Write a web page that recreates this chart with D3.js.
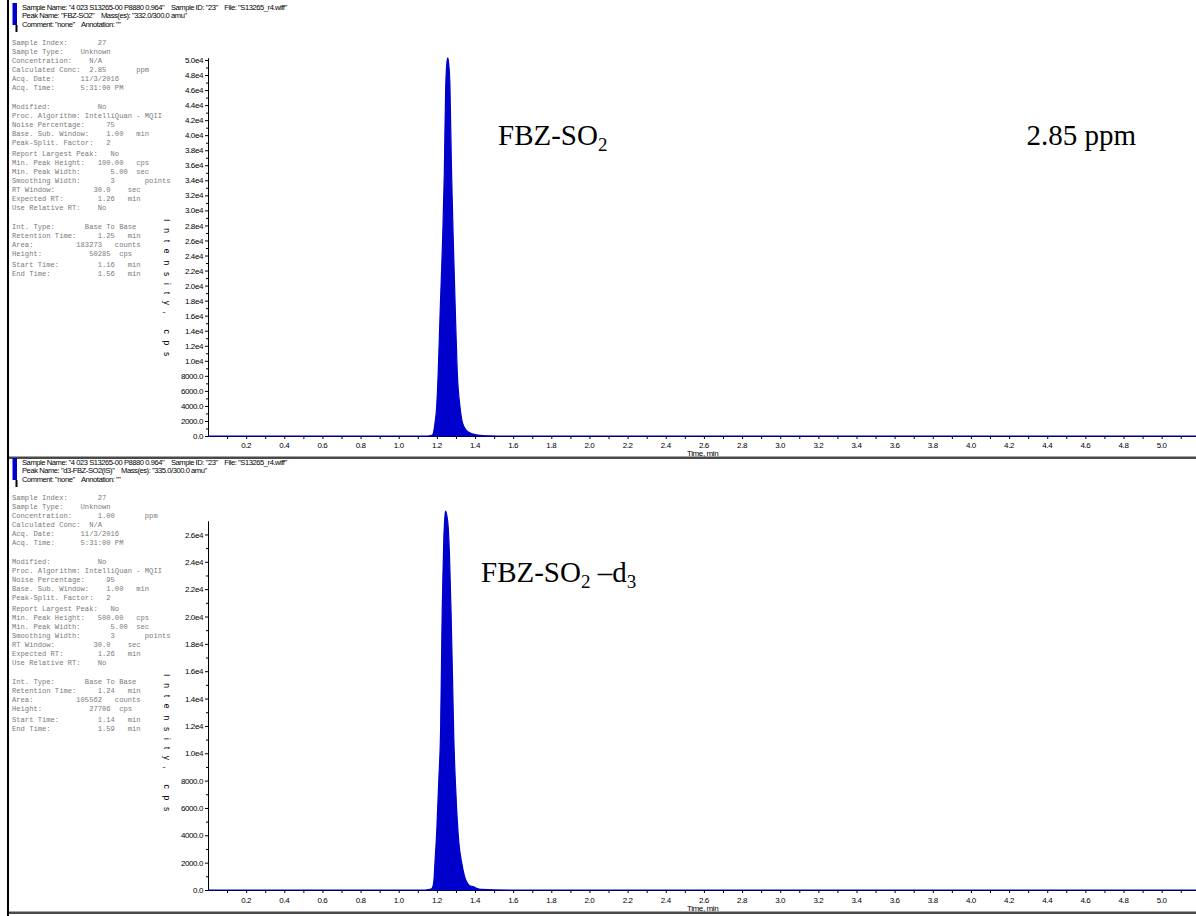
<!DOCTYPE html>
<html>
<head>
<meta charset="utf-8">
<script src="https://cdn.jsdelivr.net/npm/d3@7"></script>
<style>
  body { margin: 0; background: #fff; }
  text { white-space: pre; }
</style>
</head>
<body>
<script>
// FBZ-SO2 chromatogram (time in min, intensity in cps)
const fbzTime = [0, 1.15, 1.175, 1.185, 1.19, 1.199, 1.207, 1.218, 1.230, 1.239, 1.246, 1.252, 1.257, 1.262, 1.268, 1.277, 1.286, 1.296, 1.307, 1.321, 1.33, 1.345, 1.356, 1.375, 1.40, 1.425, 1.47, 1.56, 5.18]
const fbzCps = [0, 0, 100, 800, 1700, 3900, 8400, 17200, 26000, 35000, 46000, 49500, 50285, 49500, 47000, 35000, 26000, 17200, 8400, 3900, 2200, 1100, 700, 400, 200, 80, 30, 0, 0]

// d3-FBZ-SO2 (internal standard)
const d3Time = [0, 1.14, 1.17, 1.178, 1.185, 1.19, 1.20, 1.21, 1.22, 1.228, 1.236, 1.242, 1.246, 1.252, 1.259, 1.266, 1.274, 1.282, 1.289, 1.30, 1.315, 1.33, 1.345, 1.36, 1.373, 1.39, 1.408, 1.43, 1.59, 5.18]
const d3Cps = [0, 0, 60, 200, 800, 2000, 4500, 8000, 12000, 20500, 25500, 27300, 27706, 27400, 26600, 24500, 20500, 15500, 11000, 7000, 3500, 2000, 1000, 500, 300, 250, 120, 40, 0, 0]

const xTickLabels = [0.2, 0.4, 0.6, 0.8, 1.0, 1.2, 1.4, 1.6, 1.8, 2.0, 2.2, 2.4, 2.6, 2.8, 3.0, 3.2, 3.4, 3.6, 3.8, 4.0, 4.2, 4.4, 4.6, 4.8, 5.0]
const fbzYTicks = [0, 2000, 4000, 6000, 8000, 10000, 12000, 14000, 16000, 18000, 20000, 22000, 24000, 26000, 28000, 30000, 32000, 34000, 36000, 38000, 40000, 42000, 44000, 46000, 48000, 50000]
const d3YTicks = [0, 2000, 4000, 6000, 8000, 10000, 12000, 14000, 16000, 18000, 20000, 22000, 24000, 26000]

const fbzHeader = [
  'Sample Name: "4 023 S13265-00 P8880 0.964"    Sample ID: "23"    File: "S13265_r4.wiff"',
  'Peak Name: "FBZ-SO2"    Mass(es): "332.0/300.0 amu"',
  'Comment: "none"    Annotation: ""'
]
const d3Header = [
  'Sample Name: "4 023 S13265-00 P8880 0.964"    Sample ID: "23"    File: "S13265_r4.wiff"',
  'Peak Name: "d3-FBZ-SO2(IS)"    Mass(es): "335.0/300.0 amu"',
  'Comment: "none"    Annotation: ""'
]

const fbzInfo = [
  ['Sample Index:       27',
   'Sample Type:    Unknown',
   'Concentration:    N/A',
   'Calculated Conc:  2.85       ppm',
   'Acq. Date:      11/3/2016',
   'Acq. Time:      5:31:00 PM'],
  ['Modified:           No',
   'Proc. Algorithm: IntelliQuan - MQII',
   'Noise Percentage:     75',
   'Base. Sub. Window:    1.00   min',
   'Peak-Split. Factor:   2'],
  ['Report Largest Peak:   No',
   'Min. Peak Height:   100.00   cps',
   'Min. Peak Width:       5.00  sec',
   'Smoothing Width:       3       points',
   'RT Window:         30.0    sec',
   'Expected RT:        1.26   min',
   'Use Relative RT:    No'],
  ['Int. Type:       Base To Base',
   'Retention Time:     1.25   min',
   'Area:          183273   counts',
   'Height:           50285  cps'],
  ['Start Time:         1.16   min',
   'End Time:           1.56   min']
]
const d3Info = [
  ['Sample Index:       27',
   'Sample Type:    Unknown',
   'Concentration:      1.00       ppm',
   'Calculated Conc:  N/A',
   'Acq. Date:      11/3/2016',
   'Acq. Time:      5:31:00 PM'],
  ['Modified:           No',
   'Proc. Algorithm: IntelliQuan - MQII',
   'Noise Percentage:     95',
   'Base. Sub. Window:    1.00   min',
   'Peak-Split. Factor:   2'],
  ['Report Largest Peak:   No',
   'Min. Peak Height:   500.00   cps',
   'Min. Peak Width:       5.00  sec',
   'Smoothing Width:       3       points',
   'RT Window:         30.0    sec',
   'Expected RT:        1.26   min',
   'Use Relative RT:    No'],
  ['Int. Type:       Base To Base',
   'Retention Time:     1.24   min',
   'Area:          105562   counts',
   'Height:           27706  cps'],
  ['Start Time:         1.14   min',
   'End Time:           1.59   min']
]

const blue = '#0000cc'
const sans = 'Liberation Sans, Arial, sans-serif'

const svg = d3.select('body').append('svg')
  .attr('width', 1196)
  .attr('height', 916)

const x = d3.scaleLinear().domain([0, 5.18]).range([208, 1196])

const fmtY = (v) => v >= 10000 ? (v / 1e4).toFixed(1) + 'e4' : v.toFixed(1)

function drawPanel (off, p) {
  const g = svg.append('g').attr('transform', `translate(0,${off})`)

  // colour marker next to the header
  g.append('rect').attr('x', 12.5).attr('y', 3).attr('width', 4.5).attr('height', 22).attr('fill', blue)
  g.append('rect').attr('x', 15.5).attr('y', 25).attr('width', 2).attr('height', 7).attr('fill', '#000')

  g.selectAll('.hdr')
    .data(p.header)
    .enter()
    .append('text')
    .attr('class', 'hdr')
    .attr('x', 22)
    .attr('y', (d, i) => 9.5 + i * 8.8)
    .attr('font-family', sans)
    .attr('font-size', 7.6)
    .attr('letter-spacing', -0.45)
    .text((d) => d)

  // acquisition / integration parameters
  const gaps = [0, 9.5, 2, 10.5, 2]
  let yy = 45 - 9
  p.info.forEach((grp, gi) => {
    yy += gaps[gi]
    grp.forEach((line) => {
      yy += 9
      g.append('text')
        .attr('x', 12)
        .attr('y', yy)
        .attr('font-family', 'Liberation Mono, Courier New, monospace')
        .attr('font-size', 7.15)
        .attr('fill', '#7a7a7a')
        .text(line)
    })
  })

  const y = d3.scaleLinear().domain([0, p.yRef]).range([p.y0, p.yRefPx])
  const yAxisScale = y.copy().domain([0, p.yTop]).range([y(0), y(p.yTop)])

  // minor ticks every 1000 cps
  g.append('g')
    .attr('transform', 'translate(208,0)')
    .call(d3.axisLeft(yAxisScale).tickValues(d3.range(1000, p.yTop, 2000)).tickSize(2).tickFormat(''))
    .call((a) => a.select('.domain').remove())

  const ya = g.append('g')
    .attr('transform', 'translate(208,0)')
    .call(d3.axisLeft(yAxisScale).tickValues(p.yTicks).tickSize(3).tickSizeOuter(0).tickPadding(2).tickFormat(fmtY))
  ya.selectAll('text').attr('font-family', sans).attr('font-size', 8).attr('letter-spacing', -0.4).attr('fill', '#000')

  // x axis
  const xa = g.append('g')
    .attr('transform', `translate(0,${p.y0})`)
    .call(d3.axisBottom(x).tickValues(d3.range(1, 52).map((d) => d / 10)).tickSize(3).tickSizeOuter(0).tickFormat(''))
  xa.select('.domain').attr('stroke', '#000')

  g.selectAll('.xl')
    .data(xTickLabels)
    .enter()
    .append('text')
    .attr('class', 'xl')
    .attr('x', (d) => x(d))
    .attr('y', 447.5)
    .attr('text-anchor', 'middle')
    .attr('font-family', sans)
    .attr('font-size', 8)
    .attr('letter-spacing', -0.4)
    .text((d) => d.toFixed(1))

  g.append('text')
    .attr('x', 687)
    .attr('y', 455.5)
    .attr('font-family', sans)
    .attr('font-size', 8)
    .attr('letter-spacing', -0.4)
    .text('Time, min')

  // stacked axis title
  g.append('text')
    .attr('transform', 'translate(164,219) rotate(90)')
    .attr('font-family', sans)
    .attr('font-size', 8.5)
    .attr('letter-spacing', 6.8)
    .text('Intensity, cps')

  // chromatogram
  const pts = p.t.map((t, i) => [t, p.v[i]])
  const area = d3.area()
    .x((d) => x(d[0]))
    .y0(y(0))
    .y1((d) => y(d[1]))
    .curve(d3.curveMonotoneX)
  g.append('path')
    .datum(pts)
    .attr('d', area)
    .attr('fill', blue)
    .attr('stroke', blue)
    .attr('stroke-width', 1.2)

  // separator under the panel
  g.append('rect').attr('x', 8).attr('y', 456.5).attr('width', 1188).attr('height', 2.5).attr('fill', '#4a4a4a')

  p.labels(g)
}

function compound (g, xx, yy, parts) {
  const t = g.append('text')
    .attr('x', xx)
    .attr('y', yy)
    .attr('font-family', 'Liberation Serif, Times New Roman, serif')
    .attr('font-size', 29)
    .attr('fill', '#000')
  let shift = 0
  parts.forEach((pt) => {
    const target = pt.sub ? 6 : 0
    t.append('tspan')
      .attr('dy', target - shift)
      .attr('font-size', pt.sub ? 19 : 29)
      .text(pt.s)
    shift = target
  })
}

drawPanel(0, {
  header: fbzHeader,
  info: fbzInfo,
  t: fbzTime,
  v: fbzCps,
  y0: 436,
  yRef: 50000,
  yRefPx: 60,
  yTop: 50300,
  yTicks: fbzYTicks,
  labels: (g) => {
    compound(g, 498, 145, [{ s: 'FBZ-SO' }, { s: '2', sub: true }])
    compound(g, 1026.5, 145, [{ s: '2.85 ppm' }])
  }
})

drawPanel(455, {
  header: d3Header,
  info: d3Info,
  t: d3Time,
  v: d3Cps,
  y0: 435,
  yRef: 26000,
  yRefPx: 435 - 26000 * 0.013675,
  yTop: 27000,
  yTicks: d3YTicks,
  labels: (g) => {
    compound(g, 481, 127, [{ s: 'FBZ-SO' }, { s: '2', sub: true }, { s: ' \u2013d' }, { s: '3', sub: true }])
  }
})

// left frame line
svg.append('rect').attr('x', 7).attr('y', 0).attr('width', 2).attr('height', 916).attr('fill', '#000')
</script>
</body>
</html>
